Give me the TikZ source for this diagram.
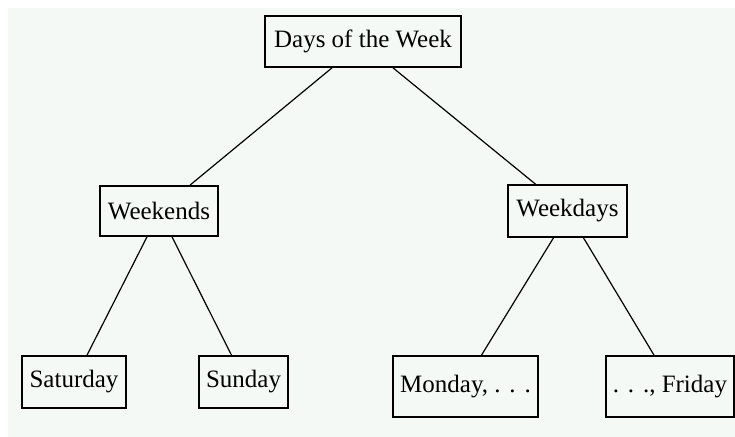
\documentclass[tikz,border=0pt]{standalone}
\usepackage{xcolor}
\usepackage{fontspec}
\setmainfont{Liberation Serif}
\usepackage{tikz}
\definecolor{paper}{RGB}{245,249,246}
\newcommand{\spreaddots}{.\hspace{4.4pt}.\hspace{4.4pt}.}

\begin{document}
\begin{tikzpicture}[x=.5pt, y=-.5pt, font=\fontsize{12.5}{15}\selectfont,
  day/.style={draw, line width=.85pt, inner sep=0pt, minimum height=26pt},
  link/.style={line width=.6pt}]
\useasboundingbox (0,0) rectangle (735,437);
\fill[paper] (8,8) rectangle (735,437);
\node[day, minimum width=98pt, minimum height=25.5pt] (week) at (363,41.5) {Days of the Week};
\node[day, minimum width=59pt, minimum height=25pt] (wkend) at (159,211) {Weekends};
\node[day, minimum width=59.5pt] (wkday) at (567.5,211) {Weekdays};
\node[day, minimum width=52pt] (sat) at (74,382) {Saturday};
\node[day, minimum width=44.5pt] (sun) at (243.5,382) {Sunday};
\node[day, minimum width=72.5pt, minimum height=30.5pt] (mon) at (465.5,386.5) {Monday, \spreaddots};
\node[day, minimum width=64pt, minimum height=30.5pt] (fri) at (670,386.5) {\spreaddots, Friday};
\draw[link] ([xshift=-15.5pt]week.south) -- ([xshift=15.5pt]wkend.north);
\draw[link] ([xshift=15pt]week.south) -- ([xshift=-16pt]wkday.north);
\draw[link] ([xshift=-6pt]wkend.south) -- ([xshift=6.5pt]sat.north);
\draw[link] ([xshift=6.5pt]wkend.south) -- ([xshift=-6pt]sun.north);
\draw[link] ([xshift=-7pt]wkday.south) -- ([xshift=8pt]mon.north);
\draw[link] ([xshift=8pt]wkday.south) -- ([xshift=-8pt]fri.north);
\end{tikzpicture}
\end{document}
